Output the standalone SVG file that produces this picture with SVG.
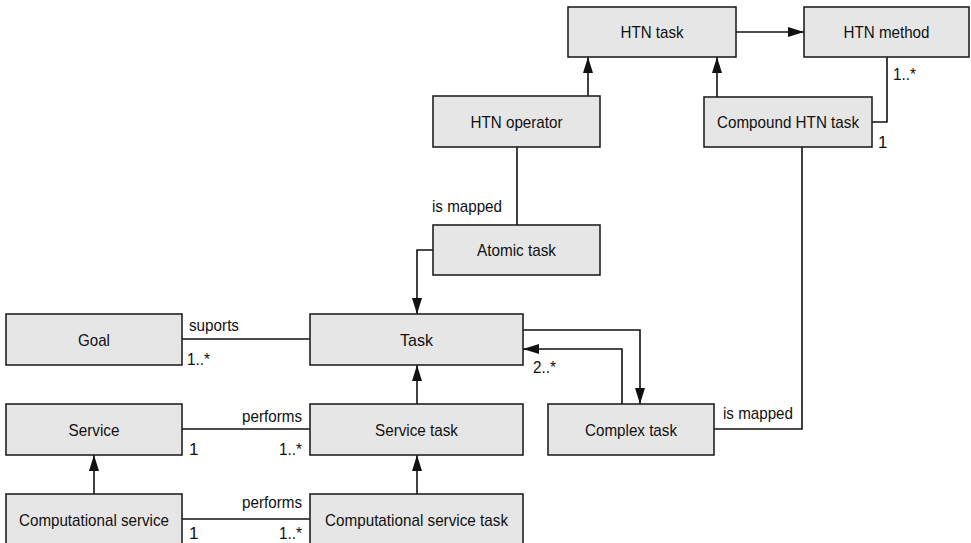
<svg xmlns="http://www.w3.org/2000/svg" width="971" height="543" viewBox="0 0 971 543">
<style>
.box{fill:#e6e6e6;stroke:#222;stroke-width:1.6}
.lbl{font-family:"Liberation Sans",Arial,sans-serif;font-size:17px;fill:#111}
.c{text-anchor:middle}
.e{text-anchor:end}
.ln{fill:none;stroke:#111;stroke-width:1.6}
</style>
<defs>
<marker id="ah" markerUnits="userSpaceOnUse" markerWidth="16" markerHeight="10" refX="16" refY="5" orient="auto">
<path d="M0,0 L16,5 L0,10 z" fill="#111"/>
</marker>
</defs>
<g id="connectors">
<path class="ln" d="M736,32 H804" marker-end="url(#ah)"/>
<path class="ln" d="M588,96 V57" marker-end="url(#ah)"/>
<path class="ln" d="M717,97 V57" marker-end="url(#ah)"/>
<path class="ln" d="M887,57 V122 H872"/>
<path class="ln" d="M802,147 V429 H714"/>
<path class="ln" d="M517,147 V225"/>
<path class="ln" d="M433,250 H417 V314" marker-end="url(#ah)"/>
<path class="ln" d="M182,339 H310"/>
<path class="ln" d="M417,404 V365" marker-end="url(#ah)"/>
<path class="ln" d="M417,494 V455" marker-end="url(#ah)"/>
<path class="ln" d="M94,494 V455" marker-end="url(#ah)"/>
<path class="ln" d="M182,429 H310"/>
<path class="ln" d="M182,519 H310"/>
<path class="ln" d="M523,330 H640 V404" marker-end="url(#ah)"/>
<path class="ln" d="M622,404 V349 H523" marker-end="url(#ah)"/>
<text class="lbl" x="893" y="80" textLength="23" lengthAdjust="spacingAndGlyphs">1..*</text>
<text class="lbl" x="878" y="148">1</text>
<text class="lbl" x="723" y="419" textLength="70" lengthAdjust="spacingAndGlyphs">is mapped</text>
<text class="lbl" x="432" y="212" textLength="70" lengthAdjust="spacingAndGlyphs">is mapped</text>
<text class="lbl" x="189" y="331" textLength="50" lengthAdjust="spacingAndGlyphs">suports</text>
<text class="lbl" x="187" y="365" textLength="23" lengthAdjust="spacingAndGlyphs">1..*</text>
<text class="lbl" x="242" y="422" textLength="60" lengthAdjust="spacingAndGlyphs">performs</text>
<text class="lbl" x="189" y="455">1</text>
<text class="lbl" x="279" y="455" textLength="23" lengthAdjust="spacingAndGlyphs">1..*</text>
<text class="lbl" x="242" y="508" textLength="60" lengthAdjust="spacingAndGlyphs">performs</text>
<text class="lbl" x="189" y="539">1</text>
<text class="lbl" x="279" y="539" textLength="23" lengthAdjust="spacingAndGlyphs">1..*</text>
<text class="lbl" x="533" y="373" textLength="23" lengthAdjust="spacingAndGlyphs">2..*</text>
</g>
<g id="htn-task"><rect class="box" x="568" y="7" width="168" height="50"/><text class="lbl" x="620.5" y="38" textLength="63" lengthAdjust="spacingAndGlyphs">HTN task</text></g>
<g id="htn-method"><rect class="box" x="804" y="7" width="165" height="50"/><text class="lbl" x="843.5" y="38" textLength="86" lengthAdjust="spacingAndGlyphs">HTN method</text></g>
<g id="htn-operator"><rect class="box" x="433" y="96" width="167" height="51"/><text class="lbl" x="470.5" y="128" textLength="92" lengthAdjust="spacingAndGlyphs">HTN operator</text></g>
<g id="compound-htn-task"><rect class="box" x="704" y="97" width="168" height="50"/><text class="lbl" x="717" y="128" textLength="142" lengthAdjust="spacingAndGlyphs">Compound HTN task</text></g>
<g id="atomic-task"><rect class="box" x="433" y="225" width="167" height="50"/><text class="lbl" x="477" y="256" textLength="79" lengthAdjust="spacingAndGlyphs">Atomic task</text></g>
<g id="goal"><rect class="box" x="6" y="314" width="176" height="51"/><text class="lbl" x="78" y="346" textLength="32" lengthAdjust="spacingAndGlyphs">Goal</text></g>
<g id="task"><rect class="box" x="310" y="314" width="213" height="51"/><text class="lbl" x="400" y="346" textLength="33" lengthAdjust="spacingAndGlyphs">Task</text></g>
<g id="service"><rect class="box" x="6" y="404" width="176" height="51"/><text class="lbl" x="68.5" y="436" textLength="51" lengthAdjust="spacingAndGlyphs">Service</text></g>
<g id="service-task"><rect class="box" x="310" y="404" width="213" height="51"/><text class="lbl" x="375" y="436" textLength="83" lengthAdjust="spacingAndGlyphs">Service task</text></g>
<g id="complex-task"><rect class="box" x="548" y="404" width="166" height="51"/><text class="lbl" x="585" y="436" textLength="92" lengthAdjust="spacingAndGlyphs">Complex task</text></g>
<g id="computational-service"><rect class="box" x="6" y="494" width="176" height="60"/><text class="lbl" x="19" y="526" textLength="150" lengthAdjust="spacingAndGlyphs">Computational service</text></g>
<g id="computational-service-task"><rect class="box" x="310" y="494" width="213" height="60"/><text class="lbl" x="325" y="526" textLength="183" lengthAdjust="spacingAndGlyphs">Computational service task</text></g>
</svg>
